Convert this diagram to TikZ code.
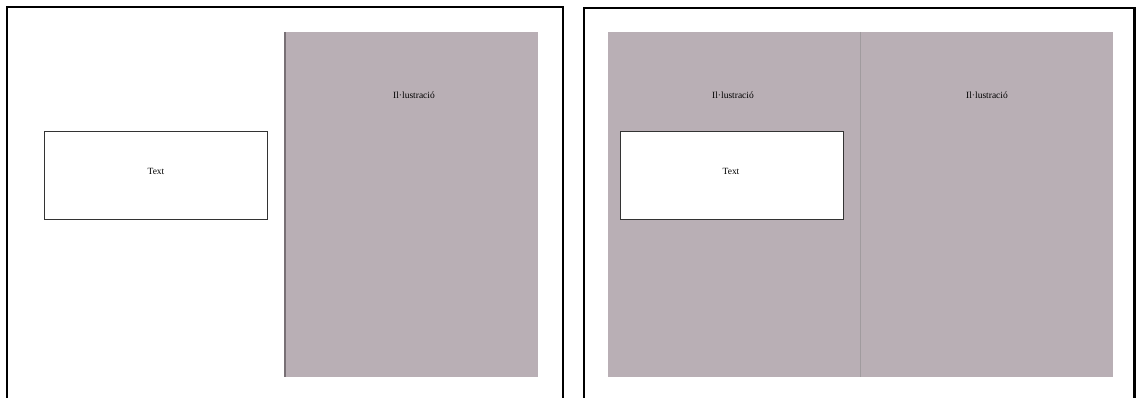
\documentclass[tikz,border=0pt]{standalone}
\usepackage{fontspec}
\setmainfont{Liberation Serif}
\usepackage{xcolor}
\definecolor{illgray}{RGB}{185,175,181}
\definecolor{edgegray}{RGB}{120,112,117}

\begin{document}
\begin{tikzpicture}[x=0.05cm, y=-0.05cm, font=\fontsize{13.5}{16}\selectfont]
  \tikzset{
    page/.style={line width=0.14cm, draw=black},
    illbox/.style={fill=illgray, draw=none, inner sep=0pt, anchor=north west},
    textbox/.style={draw=black!80, line width=0.6pt, fill=white, inner sep=0pt,
      minimum width=11.15cm, minimum height=4.4cm, anchor=north west},
  }
  \useasboundingbox (0,0) rectangle (1137,398);

  % ---------- left page ----------
  \draw[page] (7,398) -- (7,7) -- (563,7) -- (563,398);
  \node[illbox, minimum width=12.65cm, minimum height=17.25cm] (illA) at (285,32) {};
  \draw[edgegray, line width=1.5pt] (illA.north west) -- (illA.south west);
  \node (labA) at (414,95) {Il·lustració};
  \node[textbox] (txtA) at (44,131) {};
  \node (wordA) at (156,171) {Text};

  % ---------- right page ----------
  \draw[page] (584,398) -- (584,8) -- (1134.5,8) -- (1134.5,398);
  \node[illbox, minimum width=25.25cm, minimum height=17.25cm] (illB) at (608,32) {};
  \coordinate (foldtop) at (860,32);
  \coordinate (foldbot) at (860,377);
  \draw[edgegray!70, line width=0.6pt] (foldtop) -- (foldbot);
  \node (labB) at (733,95) {Il·lustració};
  \node (labC) at (987,95) {Il·lustració};
  \node[textbox] (txtB) at (620,131) {};
  \node (wordB) at (731,171) {Text};

\end{tikzpicture}
\end{document}
